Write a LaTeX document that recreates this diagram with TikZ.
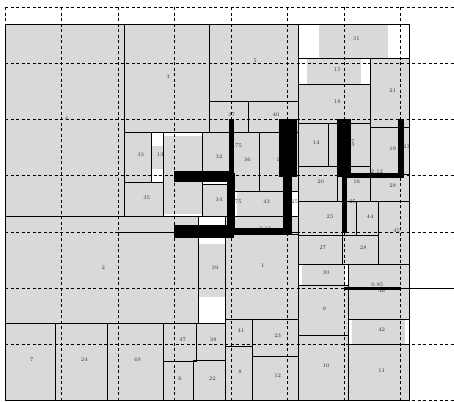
\documentclass[tikz,border=0pt]{standalone}
\begin{document}
\begin{tikzpicture}[x=1pt,y=-1pt,
  mod/.style={draw=black,line width=0.7pt},
  blk/.style={fill=black},
  gridline/.style={draw=black,dash pattern=on 3pt off 2.5pt,line width=0.7pt},
  lab/.style={font=\fontsize{5.5}{6}\selectfont,text=black!80,inner sep=0pt}]
\useasboundingbox (0,0) rectangle (454,401);
\fill[white] (0,0) rectangle (454,401);
% base fill
\fill[black!15] (5,24) rectangle (409.3,400);
% white (unused) parts of slots
\fill[white] (298.3,24) rectangle (319,58.3);
\fill[white] (387.7,24) rectangle (409.3,58.3);
\fill[white] (298.3,58.3) rectangle (307,84.3);
\fill[white] (361,58.3) rectangle (370.3,84.3);
\fill[white] (151.7,132.3) rectangle (163.3,145.7);
\fill[white] (151.7,169) rectangle (163.3,182.3);
\fill[white] (163.3,132.3) rectangle (202.3,135.7);
\fill[white] (163.3,213.7) rectangle (202.3,216.7);
\fill[white] (198.3,216.7) rectangle (225.7,244);
\fill[white] (198.3,296.7) rectangle (225.7,323.3);
\fill[white] (202.3,182) rectangle (227,184.5);
\fill[white] (233.5,191.7) rectangle (237.3,216.7);
\fill[white] (291.7,191.7) rectangle (298.3,216.7);
\fill[white] (298.3,264.3) rectangle (301.7,285);
\fill[white] (345,264.3) rectangle (348.3,285);
\fill[white] (348.3,319.3) rectangle (351.7,344.3);
\fill[white] (405,319.3) rectangle (409.3,344.3);
% module borders
\draw[mod] (5,24) rectangle (409.3,400);
\draw[mod] (5,24) rectangle (124.3,216.7);
\draw[mod] (124.3,24) rectangle (209.3,132.3);
\draw[mod] (209.3,24) rectangle (298.3,101.3);
\draw[mod] (209.3,101.3) rectangle (248.3,132.3);
\draw[mod] (248.3,101.3) rectangle (298.3,132.3);
\draw[mod] (298.3,24) rectangle (409.3,58.3);
\draw[mod] (298.3,58.3) rectangle (370.3,84.3);
\draw[mod] (298.3,84.3) rectangle (370.3,123.3);
\draw[mod] (370.3,58.3) rectangle (409.3,127.3);
\draw[mod] (124.3,132.3) rectangle (151.7,182.3);
\draw[mod] (151.7,132.3) rectangle (163.3,182.3);
\draw[mod] (124.3,182.3) rectangle (163.3,216.7);
\draw[mod] (163.3,132.3) rectangle (202.3,216.7);
\draw[mod] (202.3,132.3) rectangle (231,176);
\draw[mod] (202.3,184.5) rectangle (229,216.7);
\draw[mod] (5,216.7) rectangle (198.3,323.3);
\draw[mod] (198.3,216.7) rectangle (225.7,323.3);
\draw[mod] (5,323.3) rectangle (55.3,400);
\draw[mod] (55.3,323.3) rectangle (107.3,400);
\draw[mod] (107.3,323.3) rectangle (163.3,400);
\draw[mod] (163.3,323.3) rectangle (196.3,361);
\draw[mod] (196.3,323.3) rectangle (225.7,360);
\draw[mod] (163.3,361) rectangle (193.3,400);
\draw[mod] (193.3,360) rectangle (225.7,400);
\draw[mod] (225.7,319.3) rectangle (252.3,346);
\draw[mod] (225.7,346) rectangle (252.3,400);
\draw[mod] (252.3,319.3) rectangle (298.3,356.7);
\draw[mod] (252.3,356.7) rectangle (298.3,400);
\draw[mod] (225.7,234) rectangle (298.3,319.3);
\draw[mod] (233.5,132.3) rectangle (259.3,191.7);
\draw[mod] (259.3,132.3) rectangle (298.3,191.7);
\draw[mod] (233.5,191.7) rectangle (298.3,216.7);
\draw[mod] (233.5,216.7) rectangle (298.3,232);
\draw[mod] (298.3,123.3) rectangle (328.3,166.3);
\draw[mod] (328.3,123.3) rectangle (370.3,166.3);
\draw[mod] (370.3,127.3) rectangle (409.3,174.3);
\draw[mod] (298.3,166.3) rectangle (337.3,201);
\draw[mod] (337.3,166.3) rectangle (370.3,201);
\draw[mod] (370.3,174.3) rectangle (409.3,201);
\draw[mod] (298.3,201) rectangle (342.3,235);
\draw[mod] (342.3,201) rectangle (356.7,235);
\draw[mod] (356.7,201) rectangle (378.3,235);
\draw[mod] (378.3,201) rectangle (409.3,264.3);
\draw[mod] (298.3,235) rectangle (342.3,264.3);
\draw[mod] (342.3,235) rectangle (378.3,264.3);
\draw[mod] (298.3,264.3) rectangle (348.3,285);
\draw[mod] (298.3,285) rectangle (348.3,335);
\draw[mod] (298.3,335) rectangle (348.3,400);
\draw[mod] (348.3,264.3) rectangle (409.3,319.3);
\draw[mod] (348.3,319.3) rectangle (409.3,344.3);
\draw[mod] (348.3,344.3) rectangle (409.3,400);
\draw[mod] (118,232.3) -- (174.5,232.3);
% labels
\node[lab] (l4) at (66.5,119) {4};
\node[lab] (l3) at (168,77) {3};
\node[lab] (l5) at (255,61) {5};
\node[lab] (l37) at (231.5,115) {37};
\node[lab] (l40) at (276,115) {40};
\node[lab] (l31) at (356.3,39) {31};
\node[lab] (l15) at (337.3,70) {15};
\node[lab] (l18) at (337.3,101.7) {18};
\node[lab] (l21) at (392.7,90.7) {21};
\node[lab] (l33) at (140.7,155) {33};
\node[lab] (l13) at (160,155) {13};
\node[lab] (l35) at (146.7,197.7) {35};
\node[lab] (l32) at (219,156.7) {32};
\node[lab] (l34) at (219,199.3) {34};
\node[lab] (l2) at (103.3,267.7) {2};
\node[lab] (l39) at (215,267.7) {39};
\node[lab] (l7) at (31.7,360) {7};
\node[lab] (l24) at (84.3,360) {24};
\node[lab] (l49) at (137.3,360) {49};
\node[lab] (l47) at (182.7,340) {47};
\node[lab] (l38) at (213.3,340) {38};
\node[lab] (l6) at (180,379) {6};
\node[lab] (l22) at (212.3,379) {22};
\node[lab] (l41) at (241,331) {41};
\node[lab] (l23) at (277.7,335.7) {23};
\node[lab] (l8) at (240,371.7) {8};
\node[lab] (l12) at (277.7,376) {12};
\node[lab] (l1) at (262.7,265.7) {1};
\node[lab] (lp75a) at (237.7,146) {.75};
\node[lab] (l36) at (247.3,160) {36};
\node[lab] (lhid) at (278,160) {1};
\node[lab] (lp75b) at (238.3,201.7) {75};
\node[lab] (l43) at (266.7,201.7) {43};
\node[lab] (lp25a) at (294.5,201.7) {25};
\node[lab] (lp212a) at (265,228.3) {2.12};
\node[lab] (l14) at (316,142.7) {14};
\node[lab] (lx7) at (352.8,141.2) {7};
\node[lab] (lx3) at (352.8,145.2) {3};
\node[lab] (l19) at (392.7,149) {19};
\node[lab] (lp23) at (406.5,146.7) {23};
\node[lab] (lp212b) at (377,171.7) {2.12};
\node[lab] (l20) at (320.7,181.7) {20};
\node[lab] (l16) at (356.7,181.7) {16};
\node[lab] (l29) at (392.7,186) {29};
\node[lab] (l25) at (330,216.7) {25};
\node[lab] (lp25b) at (351.7,201.7) {.25};
\node[lab] (l44) at (370,216.7) {44};
\node[lab] (l45) at (396.7,230.7) {45};
\node[lab] (l27) at (322.7,247.7) {27};
\node[lab] (l28) at (363.3,247.7) {28};
\node[lab] (l30) at (326,272.7) {30};
\node[lab] (l9) at (324.3,309) {9};
\node[lab] (l10) at (326,366) {10};
\node[lab] (l46) at (381.7,290.5) {46};
\node[lab] (l42) at (381.7,330) {42};
\node[lab] (l11) at (381.7,371) {11};
% dashed grid
\foreach \gx in {5,61.5,118,174.5,231,287.5,344,400.5}
  \draw[gridline] (\gx,7.3) -- (\gx,400.3);
\foreach \gy in {7.3,63.45,119.6,175.75,231.9,288.05,344.2,400.35}
  \draw[gridline] (5,\gy) -- (454,\gy);
% thick critical-path bars
\fill[blk] (174.3,171) rectangle (233,182.3);
\fill[blk] (229.3,119.3) rectangle (234,175);
\fill[blk] (227,173) rectangle (234.5,234.3);
\fill[blk] (174.3,225) rectangle (234,238.3);
\fill[blk] (234,228.3) rectangle (291.7,234.3);
\fill[blk] (283.3,175) rectangle (291.7,234.3);
\fill[blk] (279,119.3) rectangle (297,176.7);
\fill[blk] (337.3,119.3) rectangle (350.7,176.7);
\fill[blk] (342.3,176.7) rectangle (347.3,232.7);
\fill[blk] (341.7,173.3) rectangle (404,178);
\fill[blk] (398,119.3) rectangle (404,178);
\fill[blk] (344.3,287.3) rectangle (400.7,290);
\coordinate (tailA) at (400.7,288.4);
\coordinate (tailB) at (454,288.4);
\draw[line width=0.8pt] (tailA) -- (tailB);
\node[lab] (l085) at (377.3,284.3) {0.85};
\end{tikzpicture}
\end{document}
